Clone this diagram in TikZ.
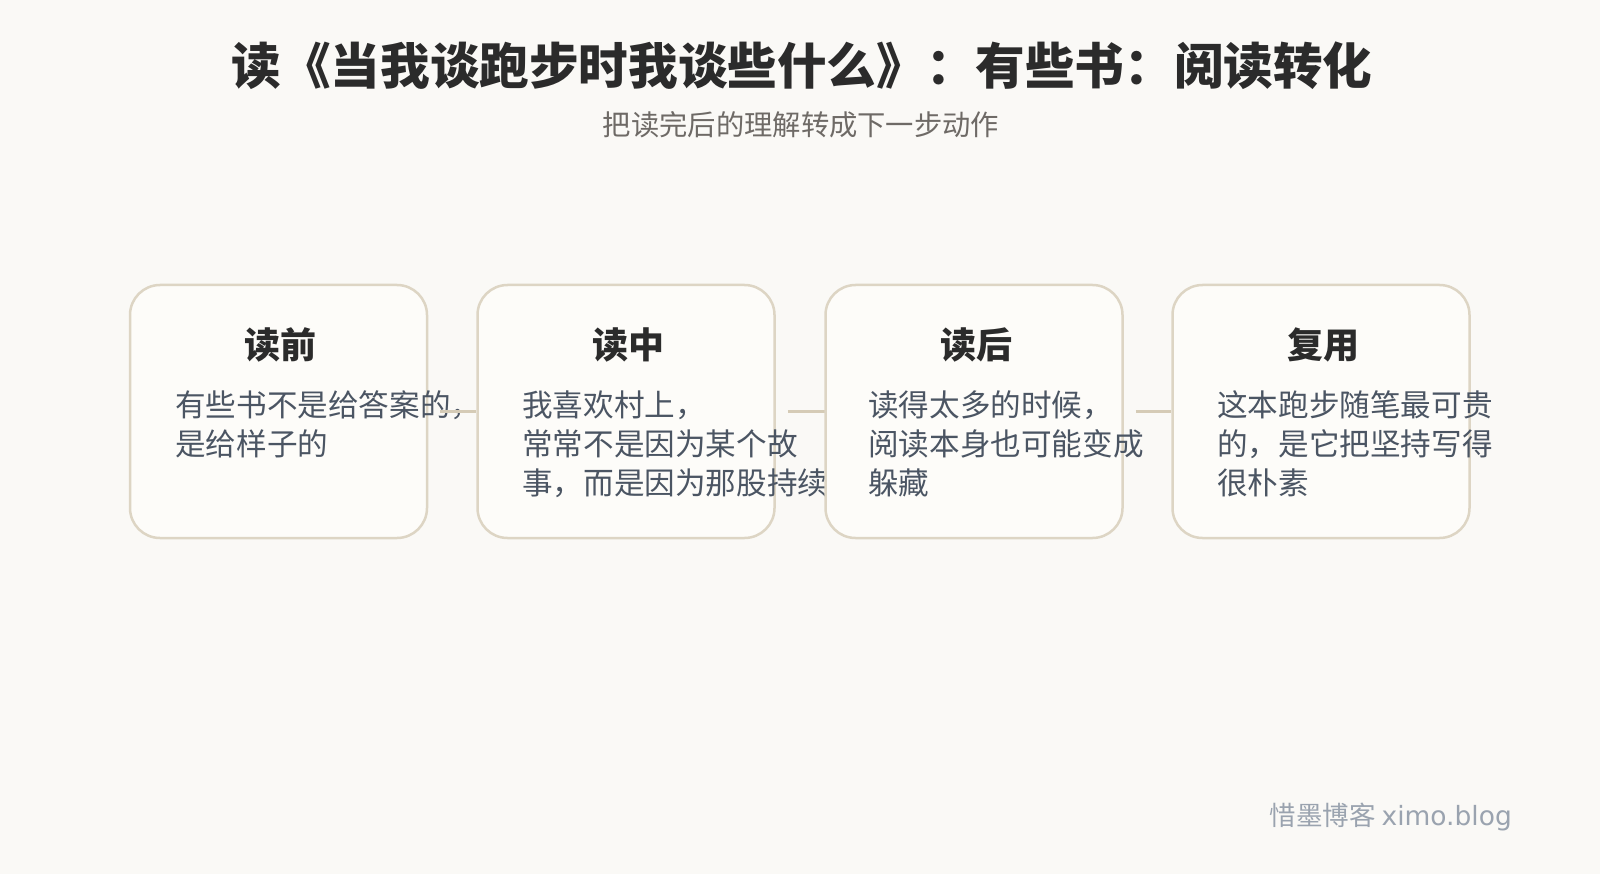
\documentclass[tikz,border=0pt]{standalone}
\usepackage{fontspec}
\setmainfont{Noto Sans CJK SC}
\newfontfamily\latinsans{DejaVu Sans}
\definecolor{bgc}{HTML}{FAF9F6}
\definecolor{cardfill}{HTML}{FDFCF9}
\definecolor{cardline}{HTML}{DDD5C4}
\definecolor{linkc}{HTML}{D5CBB6}
\definecolor{titlec}{HTML}{2B2B2B}
\definecolor{subc}{HTML}{6E6A66}
\definecolor{bodyc}{HTML}{4B5563}
\definecolor{footc}{HTML}{9AA3AF}
\tikzset{
  card/.style={draw=cardline, line width=2.5pt, fill=cardfill, rounded corners=30pt,
    minimum width=297pt, minimum height=253pt, inner sep=0pt},
  head/.style={anchor=base, font=\fontsize{36}{40}\selectfont\bfseries, text=titlec, inner sep=0pt},
  bodyline/.style={anchor=base west, font=\fontsize{30.6}{36}\selectfont, text=bodyc, inner sep=0pt},
  link/.style={draw=linkc, line width=3.5pt},
}
\begin{document}
\begin{tikzpicture}[x=1pt,y=-1pt]
\fill[bgc] (0,0) rectangle (1600,874);
\useasboundingbox (0,0) rectangle (1600,874);

\node[anchor=base, font=\fontsize{49.6}{60}\selectfont\bfseries, text=titlec, inner sep=0pt] (title) at (802,85) {读《当我谈跑步时我谈些什么》：有些书：阅读转化};
\node[anchor=base, font=\fontsize{28.3}{34}\selectfont, text=subc, inner sep=0pt] (sub) at (801,136) {把读完后的理解转成下一步动作};

% card 1
\node[card] (b1) at (278.5,411.5) {};
\node[head] (h1) at (280.5,358) {读前};
\node[bodyline] (t1a) at (175,416) {有些书不是给答案的，};
\node[bodyline] (t1b) at (175,455) {是给样子的};
\coordinate (s1) at ([xshift=12pt]b1.east);

% card 2
\node[card] (b2) at (626,411.5) {};
\draw[link] (s1) -- (b2.west);
\node[head] (h2) at (628,358) {读中};
\node[bodyline] (t2a) at (522,416) {我喜欢村上，};
\node[bodyline] (t2b) at (522,455) {常常不是因为某个故};
\node[bodyline] (t2c) at (522,494) {事，而是因为那股持续};
\coordinate (s2) at ([xshift=12pt]b2.east);

% card 3
\draw[link] (s2) -- (974-148.5,411.5);
\node[card] (b3) at (974,411.5) {};
\node[head] (h3) at (976,358) {读后};
\node[bodyline] (t3a) at (868,416) {读得太多的时候，};
\node[bodyline] (t3b) at (868,455) {阅读本身也可能变成};
\node[bodyline] (t3c) at (868,494) {躲藏};
\coordinate (s3) at ([xshift=12pt]b3.east);

% card 4
\node[card] (b4) at (1321,411.5) {};
\draw[link] (s3) -- (b4.west);
\node[head] (h4) at (1323,358) {复用};
\node[bodyline] (t4a) at (1217,416) {这本跑步随笔最可贵};
\node[bodyline] (t4b) at (1217,455) {的，是它把坚持写得};
\node[bodyline] (t4c) at (1217,494) {很朴素};

\node[anchor=base east, font=\fontsize{26.5}{30}\selectfont, text=footc, inner sep=0pt] (foot) at (1512,825) {惜墨博客 {\latinsans ximo.blog}};
\end{tikzpicture}
\end{document}
